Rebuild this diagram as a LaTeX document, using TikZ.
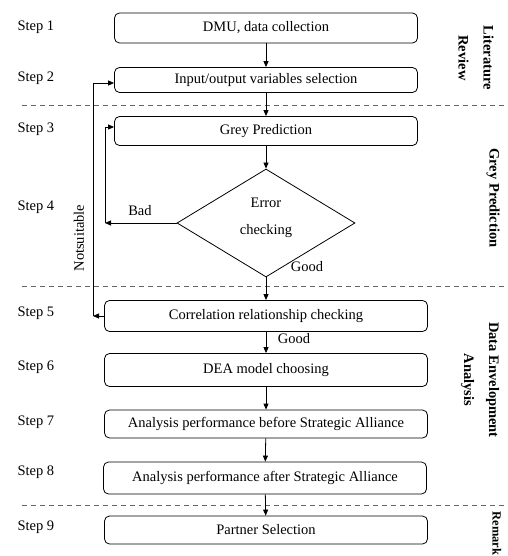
\documentclass[tikz,border=0pt]{standalone}
\usepackage{fontspec}
\setmainfont{Liberation Serif}
\usetikzlibrary{shapes.geometric,arrows.meta}
\tikzset{
stepbox/.style={
  draw, rounded corners=5pt, line width=0.8pt,
  minimum width=303pt, minimum height=29pt, inner sep=0pt,
  font=\fontsize{14.5}{16}\selectfont
},
widebox/.style={stepbox, minimum width=323pt},
checkbox/.style={
  draw, diamond, line width=0.8pt, inner sep=0pt,
  minimum width=178pt, minimum height=108pt, align=center,
  text depth=13pt,
  font=\fontsize{14.5}{27}\selectfont
},
steplabel/.style={anchor=west, font=\fontsize{14.5}{16}\selectfont},
flowlabel/.style={font=\fontsize{14.5}{16}\selectfont},
phase/.style={rotate=-90, align=center, font=\fontsize{14.5}{25}\selectfont\bfseries},
flow/.style={-{Triangle[length=6pt,width=5pt]}, line width=0.8pt},
divider/.style={dash pattern=on 5pt off 4pt, gray!80!black, line width=0.8pt}
}
\begin{document}
\begin{tikzpicture}[x=1pt,y=-1pt]
\useasboundingbox (0,0) rectangle (507,556);
% the boxes
\node[stepbox, minimum height=30pt] (dmu) at (266,28) {DMU, data collection};
\node[stepbox, minimum height=25pt] (vars) at (266,80) {Input/output variables selection};
\node[stepbox] (grey) at (266,131) {Grey Prediction};
\node[checkbox] (err) at (266,223) {Error\\checking};
\node[widebox, minimum height=31pt] (corr) at (266,316) {Correlation relationship checking};
\node[widebox, minimum height=33pt] (dea) at (266,370) {DEA model choosing};
\node[widebox, minimum height=28pt] (before) at (266,424) {Analysis performance before Strategic Alliance};
\node[widebox, minimum height=32pt] (after) at (265,478) {Analysis performance after Strategic Alliance};
\node[widebox, minimum height=28pt] (partner) at (266,530) {Partner Selection};
% the steps
\foreach \n/\y in {1/27,2/78,3/129,4/207,5/313,6/367,7/422,8/472,9/527}
{
  \node[steplabel] (step\n) at (14,\y) {Step \n};
}
% the phase rules
\foreach \y in {105,286,505}
{
  \draw[divider] (22,\y) -- (507,\y);
}
% the phases
\node[phase] (litrev) at (476,58) {Literature\\Review};
\node[phase] (greypred) at (493,198) {Grey Prediction};
\node[phase] (envelop) at (480,380) {Data Envelopment\\Analysis};
\node[phase, anchor=west, font=\fontsize{12.5}{14}\selectfont\bfseries] (remark) at (497,508) {Remark};
% the arrows
\draw[flow] (dmu) -- (vars);
\draw[flow] (vars) -- (grey);
\draw[flow] (grey) -- (err.north);
\draw[flow] (err.south) -- (corr.north);
\foreach \a/\b in {corr/dea,dea/before,before/after,after/partner}
{
  \draw[flow] (\a) -- (\b);
}
% the loops
\coordinate (badturn) at (105,223);
\coordinate (unfit) at (93,316);
\draw[flow] (err.west) -- (badturn);
\draw[flow] (badturn) |- ([yshift=4pt]grey.west);
\draw[flow] (corr.west) -- (unfit);
\draw[flow] (unfit) |- ([yshift=-3pt]vars.west);
\node[flowlabel] (bad) at (140,211) {Bad};
\node[flowlabel] (good) at (307,267) {Good};
\node[flowlabel] (fine) at (294,339) {Good};
\node[flowlabel, rotate=90] (notfit) at (79,238) {Notsuitable};
\end{tikzpicture}
\end{document}
